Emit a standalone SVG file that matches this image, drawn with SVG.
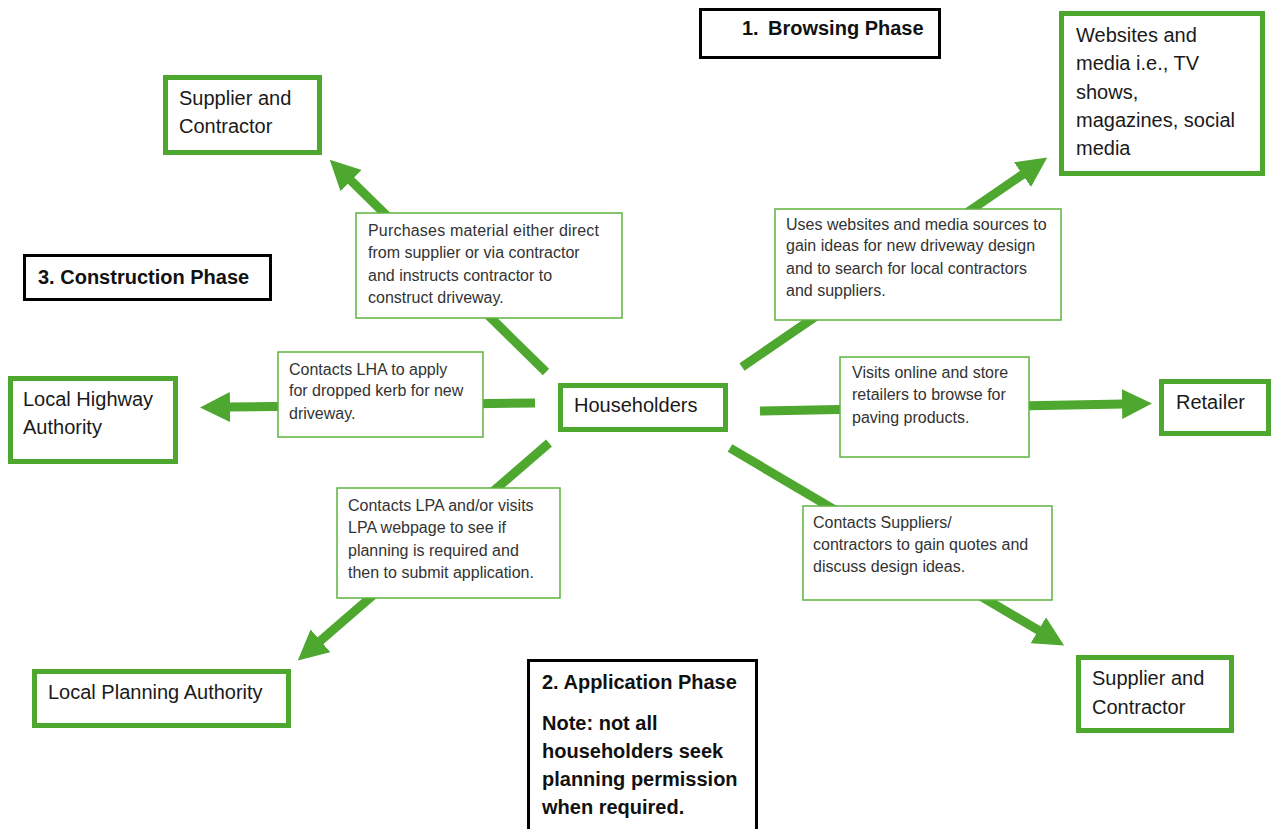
<svg xmlns="http://www.w3.org/2000/svg" width="1271" height="829" viewBox="0 0 1271 829">
<style>
  .node { fill: #ffffff; stroke: #4EA72E; stroke-width: 5; }
  .label { fill: #ffffff; stroke: #5DB33E; stroke-width: 1.5; }
  .phase { fill: #ffffff; stroke: #000000; stroke-width: 3; }
  .big { font-family: "Liberation Sans", Arial, sans-serif; font-size: 20px; fill: #1a1a1a; }
  .small { font-family: "Liberation Sans", Arial, sans-serif; font-size: 16px; fill: #333333; }
  .ph { font-family: "Liberation Sans", Arial, sans-serif; font-size: 20px; font-weight: bold; fill: #111111; }
  .conn { fill: none; stroke: #4EA72E; stroke-width: 9; stroke-linecap: butt; marker-end: url(#head); }
</style>
<defs>
  <marker id="head" markerUnits="userSpaceOnUse" markerWidth="30" markerHeight="30" viewBox="0 0 30 30" refX="1" refY="15" orient="auto">
    <path d="M0,0 L30,15 L0,30 Z" fill="#4EA72E"/>
  </marker>
</defs>
<rect x="0" y="0" width="1271" height="829" fill="#ffffff"/>

<g id="connectors">
  <line class="conn" x1="546" y1="372" x2="350.4" y2="180"/>
  <line class="conn" x1="742" y1="367" x2="1023.3" y2="174"/>
  <line class="conn" x1="535" y1="403" x2="229" y2="407"/>
  <line class="conn" x1="760" y1="411" x2="1123" y2="404"/>
  <line class="conn" x1="549" y1="443" x2="319.7" y2="641.4"/>
  <line class="conn" x1="730" y1="448" x2="1039.2" y2="630.7"/>
</g>

<g id="phase-browsing">
  <rect class="phase" x="700.5" y="9.5" width="239" height="48"/>
  <text class="ph" x="742" y="35">1.</text>
  <text class="ph" x="768" y="35">Browsing Phase</text>
</g>
<g id="phase-construction">
  <rect class="phase" x="24.5" y="255.5" width="246" height="44"/>
  <text class="ph" x="38" y="284">3. Construction Phase</text>
</g>
<g id="phase-application">
  <rect class="phase" x="528.5" y="660.5" width="228" height="175"/>
  <text class="ph" x="542" y="689">2. Application Phase</text>
  <text class="ph" x="542" y="730">Note: not all</text>
  <text class="ph" x="542" y="758">householders seek</text>
  <text class="ph" x="542" y="786">planning permission</text>
  <text class="ph" x="542" y="814">when required.</text>
</g>

<g id="supplier-top">
  <rect class="node" x="165.5" y="77.5" width="154" height="75"/>
  <text class="big" x="179" y="105">Supplier and</text>
  <text class="big" x="179" y="133">Contractor</text>
</g>
<g id="websites">
  <rect class="node" x="1061.5" y="13.5" width="201" height="160"/>
  <text class="big" x="1076" y="42">Websites and</text>
  <text class="big" x="1076" y="70">media i.e., TV</text>
  <text class="big" x="1076" y="99">shows,</text>
  <text class="big" x="1076" y="127">magazines, social</text>
  <text class="big" x="1076" y="155">media</text>
</g>
<g id="lha">
  <rect class="node" x="10.5" y="378.5" width="165" height="83"/>
  <text class="big" x="23" y="406">Local Highway</text>
  <text class="big" x="23" y="434">Authority</text>
</g>
<g id="householders">
  <rect class="node" x="560.5" y="385.5" width="165" height="44"/>
  <text class="big" x="574" y="412">Householders</text>
</g>
<g id="retailer">
  <rect class="node" x="1161.5" y="381.5" width="107" height="52"/>
  <text class="big" x="1176" y="409">Retailer</text>
</g>
<g id="lpa">
  <rect class="node" x="34.5" y="671.5" width="254" height="54"/>
  <text class="big" x="48" y="699">Local Planning Authority</text>
</g>
<g id="supplier-bottom">
  <rect class="node" x="1078.5" y="657.5" width="153" height="73"/>
  <text class="big" x="1092" y="685">Supplier and</text>
  <text class="big" x="1092" y="714">Contractor</text>
</g>

<g id="label-purchases">
  <rect class="label" x="356" y="213" width="266" height="105"/>
  <text class="small" x="368" y="236" textLength="231" lengthAdjust="spacing">Purchases material either direct</text>
  <text class="small" x="368" y="258">from supplier or via contractor</text>
  <text class="small" x="368" y="281">and instructs contractor to</text>
  <text class="small" x="368" y="303">construct driveway.</text>
</g>
<g id="label-websites">
  <rect class="label" x="775" y="209" width="286" height="111"/>
  <text class="small" x="786" y="230">Uses websites and media sources to</text>
  <text class="small" x="786" y="251">gain ideas for new driveway design</text>
  <text class="small" x="786" y="274">and to search for local contractors</text>
  <text class="small" x="786" y="296">and suppliers.</text>
</g>
<g id="label-lha">
  <rect class="label" x="278" y="352" width="205" height="85"/>
  <text class="small" x="289" y="375">Contacts LHA to apply</text>
  <text class="small" x="289" y="396">for dropped kerb for new</text>
  <text class="small" x="289" y="419">driveway.</text>
</g>
<g id="label-retailer">
  <rect class="label" x="840" y="357" width="189" height="100"/>
  <text class="small" x="852" y="378">Visits online and store</text>
  <text class="small" x="852" y="400">retailers to browse for</text>
  <text class="small" x="852" y="423">paving products.</text>
</g>
<g id="label-lpa">
  <rect class="label" x="337" y="488" width="223" height="110"/>
  <text class="small" x="348" y="511">Contacts LPA and/or visits</text>
  <text class="small" x="348" y="533">LPA webpage to see if</text>
  <text class="small" x="348" y="556">planning is required and</text>
  <text class="small" x="348" y="578">then to submit application.</text>
</g>
<g id="label-suppliers">
  <rect class="label" x="803" y="506" width="249" height="94"/>
  <text class="small" x="813" y="528">Contacts Suppliers/</text>
  <text class="small" x="813" y="550">contractors to gain quotes and</text>
  <text class="small" x="813" y="572">discuss design ideas.</text>
</g>
</svg>
